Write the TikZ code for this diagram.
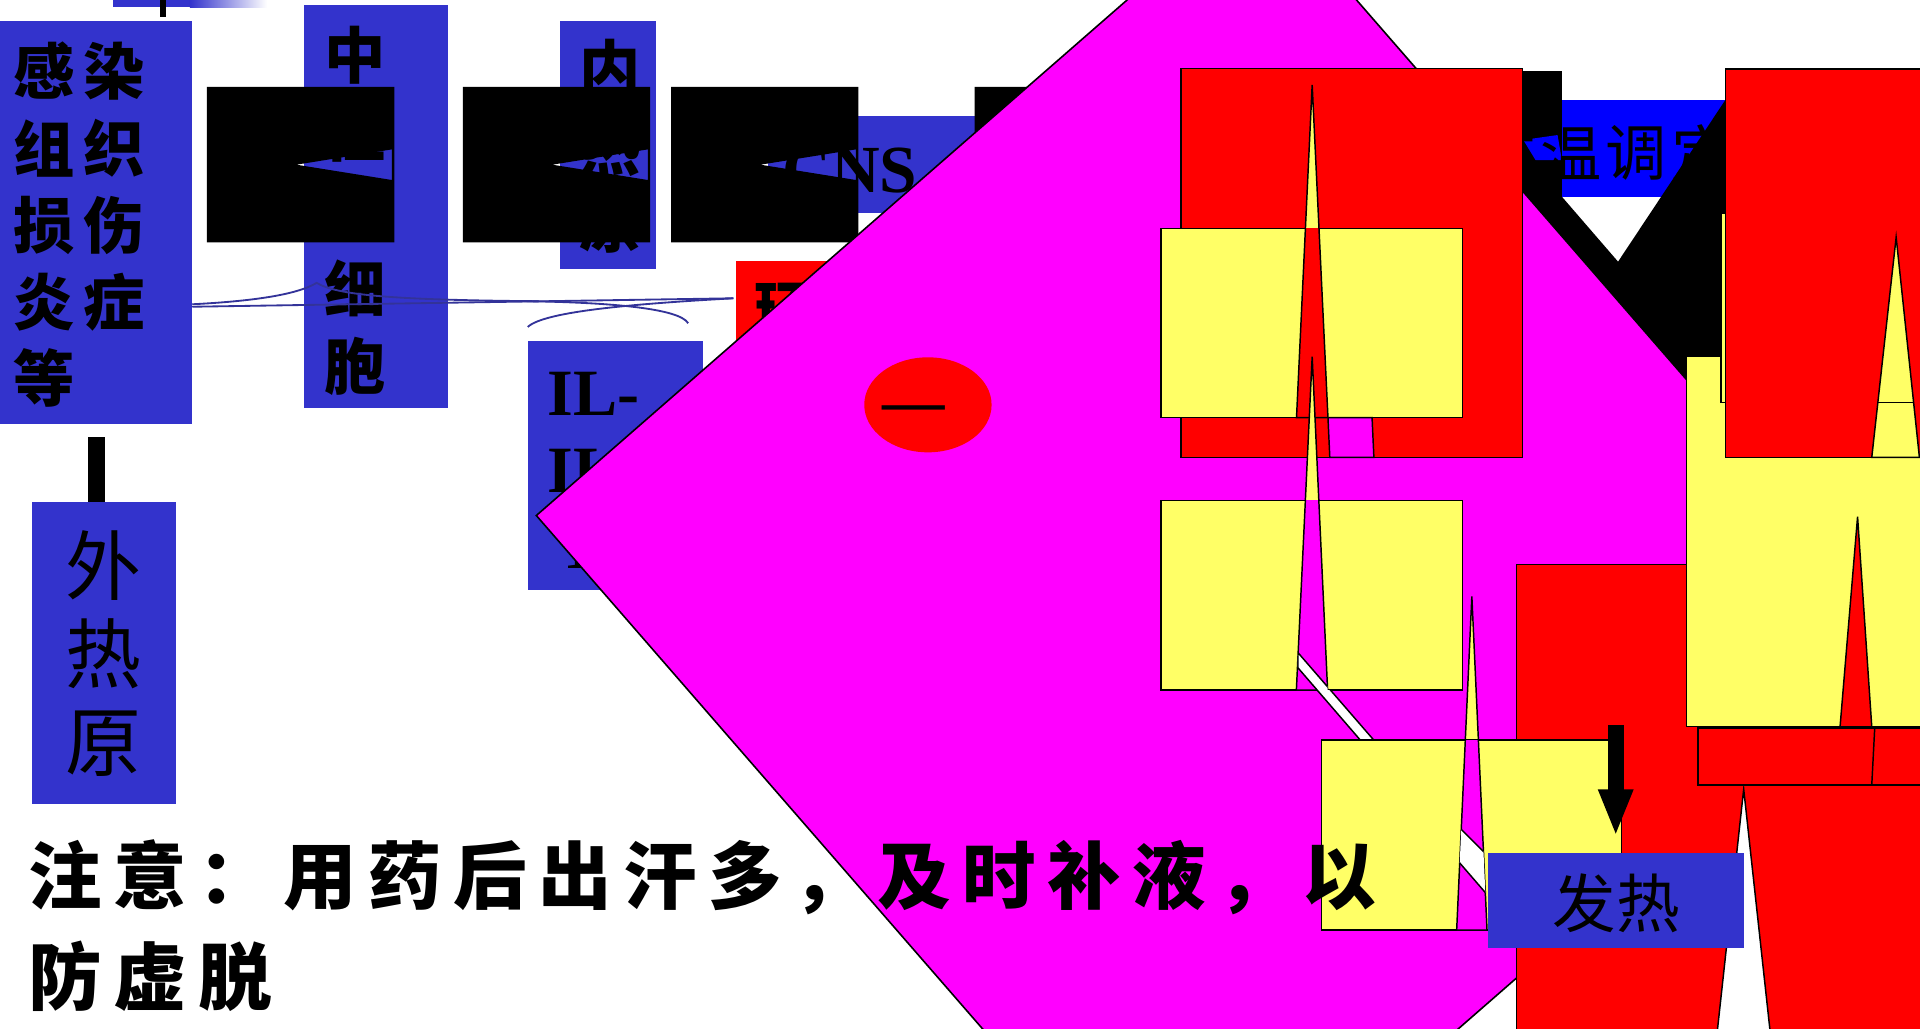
\documentclass[tikz,border=0pt]{standalone}
\usepackage{fontspec}
\setmainfont{Liberation Serif}
\newfontfamily\cjk{Noto Sans CJK SC}
\usetikzlibrary{arrows.meta,shapes.geometric}
\definecolor{boxblue}{RGB}{51,51,204}
\definecolor{pureblue}{RGB}{0,0,255}
\definecolor{pred}{RGB}{255,0,0}
\definecolor{pyellow}{RGB}{255,255,102}
\definecolor{pmag}{RGB}{255,0,255}
\definecolor{navyline}{RGB}{51,51,153}
\begin{document}
\begin{tikzpicture}[x=1pt,y=-1pt,
  rbox/.style={inner sep=0pt, outer sep=0pt, anchor=north west},
  ch/.style={inner sep=0pt, outer sep=0pt, font=\cjk\fontsize{52}{52}\selectfont},
  chb/.style={inner sep=0pt, outer sep=0pt, font=\cjk\bfseries\fontsize{50}{50}\selectfont},
  chbig/.style={ch, font=\cjk\fontsize{62}{62}\selectfont},
  lat/.style={inner sep=0pt, outer sep=0pt, anchor=base west, font=\bfseries\fontsize{54}{54}\selectfont},
  notech/.style={inner sep=0pt, outer sep=0pt, anchor=base, font=\cjk\bfseries\fontsize{60}{60}\selectfont},
  bordered/.style={draw=black, line width=1.2},
  redfill/.style={bordered, fill=pred},
  yelfill/.style={bordered, fill=pyellow},
  magfill/.style={bordered, fill=pmag},
  whifill/.style={bordered, fill=white},
  curve/.style={draw=navyline, line width=1.5}]
\useasboundingbox (0,0) rectangle (1568,840);
\clip (0,0) rectangle (1568,840);
\fill[white] (0,0) rectangle (1568,840);

% top bar
\fill[boxblue] (92,0) rectangle (155,6);
\shade[left color=boxblue, right color=white] (155,0) rectangle (218,6);
\coordinate (tickend) at (133.3,13.6);
\draw[line width=4.5] (133.3,0) -- (tickend);

% blue boxes
\node[rbox, fill=boxblue, minimum width=157, minimum height=329] (boxA) at (0,17) {};
\node[rbox, fill=boxblue, minimum width=118, minimum height=329] (boxB) at (248,4) {};
\node[rbox, fill=boxblue, minimum width=79, minimum height=203] (boxC) at (457,17) {};
\node[rbox, fill=boxblue, minimum width=173, minimum height=79] (boxCNS) at (627,95) {};
\node[rbox, fill=pred, minimum width=120, minimum height=110] (boxHuan) at (601,213) {};
\node[rbox, fill=boxblue, minimum width=143, minimum height=203.5] (boxIL) at (431,278.5) {};
\node[rbox, fill=boxblue, minimum width=118, minimum height=247] (boxWai) at (26,410) {};

\foreach \zi/\xx/\yy [count=\i] in {感/36/58,染/93/58,组/36/121,织/93/121,损/36/184.5,伤/93/184.5,炎/36/247,症/93/247,等/36/308.5}
  \node[chb] (ta\i) at (\xx,\yy) {\zi};
\foreach \zi/\yy [count=\i] in {中/45,性/108.5,粒/172,细/235.5,胞/299}
  \node[chb] (tb\i) at (290,\yy) {\zi};
\foreach \zi/\yy [count=\i] in {内/56,热/120,原/184}
  \node[chb] (tc\i) at (498,\yy) {\zi};
\foreach \zi/\yy [count=\i] in {外/462,热/534,原/607.5}
  \node[chbig] (tw\i) at (84.5,\yy) {\zi};
\node[lat, font=\bfseries\fontsize{55}{55}\selectfont] (cnstext) at (639,157) {CNS};
\node[chb] (huantext) at (641,254) {环};
\node[lat] (il1) at (447,339) {IL-};
\node[lat] (il2) at (447,402) {IL-6};
\node[lat] (il3) at (456,464) {TNF};

% connector A -> wai
\draw[line width=14, shorten <=11] (boxA.south) -- (boxA.south |- boxWai.north);

% navy curves
\coordinate (la) at (157,250.5);
\coordinate (lb) at (157,248.5);
\coordinate (le) at (599,243.6);
\draw[curve] (la) -- (le);
\draw[curve] (lb) .. controls (205,246) and (242,241) .. (258.6,231) .. controls (275,241) and (320,245) .. (440,246);
\draw[curve] (431,267) .. controls (445,254) and (520,248) .. (le);
\draw[curve] (430,246) .. controls (500,247) and (555,252) .. (562,264);

% black boxes with arrow-shaped holes
\foreach \bx in {169,378,548,796}
  \fill[black, even odd rule] (\bx,71) rectangle ++(153,127) ({\bx+73},134.5) -- ({\bx+151},122) -- ({\bx+151},147) -- cycle;

% bright blue box and black chevron
\node[rbox, fill=pureblue, minimum width=133.5, minimum height=79] (tiwen) at (1275.5,81.7) {};
\fill[black] (1200,58) -- (1275.5,58) -- (1275.5,160.6) -- (1321.4,213.7) -- (1409,81.7) -- (1409,330) -- (1330,330) -- (1200,200) -- cycle;
\fill[pureblue] (1244,114.3) -- (1272,110.3) -- (1275.5,130.7) -- (1254,130.7) -- cycle;
\foreach \zi/\xx [count=\i] in {体/1229,温/1283,调/1336.5,定/1390,点/1444}
  \node[ch, font=\cjk\fontsize{50}{50}\selectfont] (tt\i) at (\xx,125) {\zi};

% magenta diamond
\filldraw[fill=pmag, draw=black, line width=1.3] (438,421) -- (1027,-93) -- (1559,519) -- (970,1033) -- cycle;

% red ellipse with minus
\node[ellipse, fill=pred, minimum width=104, minimum height=77.6, inner sep=0pt] (neg) at (757.8,330.6) {};
\node[inner sep=0pt, anchor=base, font=\bfseries\fontsize{51}{51}\selectfont] (negsign) at (746,345) {—};

% right group 1
\filldraw[redfill] (964.5,55.8) rectangle (1243.3,373.5);
\filldraw[yelfill] (1071.6,69.4) -- (1058.8,341.1) -- (1084.5,341.1) -- cycle;
\filldraw[yelfill] (948,186.7) rectangle (1194.3,341.1);
\begin{scope}
  \clip (948,186.7) rectangle (1194.3,341.1);
  \filldraw[redfill] (1071.6,69.4) -- (1058.8,341.1) -- (1084.5,341.1) -- cycle;
\end{scope}
\filldraw[magfill] (1084.5,341.1) -- (1120.5,341.1) -- (1122,373.5) -- (1086,373.5) -- cycle;
\filldraw[yelfill] (1071.6,291.3) -- (1058.7,563.5) -- (1084.2,563.5) -- cycle;
\filldraw[yelfill] (948,408.8) rectangle (1194.3,563.5);
\begin{scope}
  \clip (948,408.8) rectangle (1194.3,563.5);
  \filldraw[magfill] (1071.6,291.3) -- (1058.7,563.5) -- (1084.2,563.5) -- cycle;
\end{scope}
\begin{scope}
  \clip (1071.6,291.3) -- (1058.7,563.5) -- (1084.2,563.5) -- cycle (900,563.5) rectangle (1300,604.5);
  \filldraw[whifill] (1060,533) -- (1122,604.5) -- (1111,604.5) -- (1060,545.4) -- cycle;
\end{scope}

% right group 2
\filldraw[redfill] (1238.6,461) rectangle (1600,900);
\filldraw[yelfill] (1202,487) -- (1189.6,759.5) -- (1214.4,759.5) -- cycle;
\filldraw[yelfill] (1079.4,604.5) rectangle (1324,759.5);
\begin{scope}
  \clip (1079.4,604.5) rectangle (1324,759.5);
  \filldraw[magfill] (1202,487) -- (1189.6,759.5) -- (1214.4,759.5) -- cycle;
  \clip (1202,487) -- (1189.6,759.5) -- (1214.4,759.5) -- cycle;
  \filldraw[whifill] (1188,672) -- (1218,702) -- (1218,734.7) -- (1188,700) -- cycle;
\end{scope}
\filldraw[whifill] (1424,644.5) -- (1400.5,860) -- (1447.5,860) -- cycle;
\filldraw[yelfill] (1377.5,291) rectangle (1600,593.5);
\filldraw[redfill] (1517,422) -- (1502.7,593.5) -- (1528.6,593.5) -- cycle;
\filldraw[redfill] (1386.5,594.6) rectangle (1600,641);
\draw[bordered] (1531,594.6) -- (1528.6,641);
\filldraw[yelfill] (1405.5,174) rectangle (1600,328.6);
\filldraw[redfill] (1409,56.4) rectangle (1600,373.5);
\filldraw[yelfill] (1548.5,193.8) -- (1528.6,373.5) -- (1567.5,373.5) -- cycle;
\begin{scope}
  \clip (1548.5,193.8) -- (1528.6,373.5) -- (1567.5,373.5) -- cycle;
  \draw[bordered] (1500,328.6) -- (1600,328.6);
\end{scope}

% arrow and fever box
\node[rbox, fill=boxblue, minimum width=209, minimum height=77] (fare) at (1215,697) {};
\node[ch] (faretext) at (1320,737.6) {发热};
\coordinate (arrtop) at (1319.5,592);
\draw[line width=13, -{Triangle[width=26,length=38.4]}, shorten >=14] (arrtop) -- (arrtop |- fare.north);

% note
\foreach \zi [count=\i from 0] in {注,意,：,用,药,后,出,汗,多,，,及,时,补,液,，,以}
  \node[notech] (na\i) at ({53+69.4*\i},738) {\zi};
\foreach \zi [count=\i from 0] in {防,虚,脱}
  \node[notech] (nb\i) at ({53+69.4*\i},820) {\zi};
\end{tikzpicture}
\end{document}
